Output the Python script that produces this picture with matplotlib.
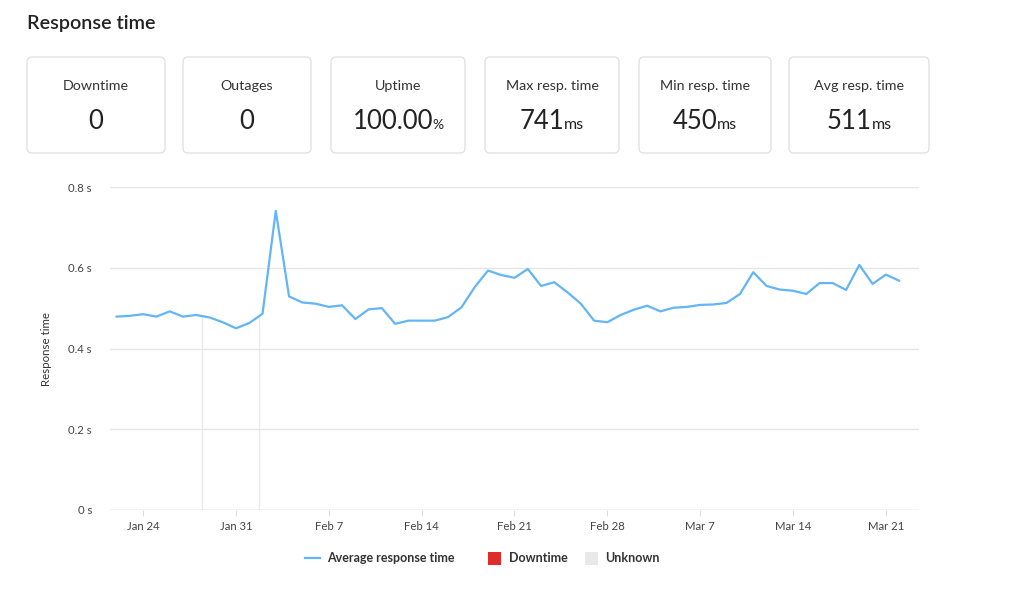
import numpy as np
import matplotlib
matplotlib.use("Agg")
import matplotlib.pyplot as plt
import matplotlib.dates as mdates
from matplotlib.patches import FancyBboxPatch, Rectangle
from matplotlib.lines import Line2D
import datetime as dt

plt.rcParams['font.family'] = ['Lato', 'DejaVu Sans']

# ---- data ----
start_date = dt.date(2021, 1, 22)
resp_time = [0.479, 0.481, 0.485, 0.479, 0.492, 0.479, 0.483, 0.477, 0.465, 0.450,
             0.463, 0.486, 0.741, 0.529, 0.514, 0.511, 0.503, 0.507, 0.473, 0.497,
             0.500, 0.461, 0.469, 0.469, 0.469, 0.478, 0.502, 0.552, 0.593, 0.582,
             0.575, 0.597, 0.555, 0.564, 0.539, 0.511, 0.469, 0.465, 0.483, 0.496,
             0.506, 0.492, 0.501, 0.503, 0.508, 0.509, 0.513, 0.535, 0.589, 0.555,
             0.546, 0.543, 0.535, 0.562, 0.562, 0.545, 0.607, 0.560, 0.583, 0.568]
dates = [start_date + dt.timedelta(days=i) for i in range(len(resp_time))]

marker_dates = [dt.datetime(2021, 1, 28, 11), dt.datetime(2021, 2, 1, 17)]

tick_dates = [dt.date(2021, 1, 24), dt.date(2021, 1, 31), dt.date(2021, 2, 7),
              dt.date(2021, 2, 14), dt.date(2021, 2, 21), dt.date(2021, 2, 28),
              dt.date(2021, 3, 7), dt.date(2021, 3, 14), dt.date(2021, 3, 21)]
tick_labels = ["Jan 24", "Jan 31", "Feb 7", "Feb 14", "Feb 21", "Feb 28",
               "Mar 7", "Mar 14", "Mar 21"]
y_ticks = [0.0, 0.2, 0.4, 0.6, 0.8]
y_tick_labels = ["0 s", "0.2 s", "0.4 s", "0.6 s", "0.8 s"]

card_labels = ["Downtime", "Outages", "Uptime", "Max resp. time", "Min resp. time", "Avg resp. time"]
card_values = ["0", "0", "100.00", "741", "450", "511"]
card_units = ["", "", "%", "ms", "ms", "ms"]

legend_labels = ["Average response time", "Downtime", "Unknown"]

LINE_COLOR = '#62b5f6'
DOWN_COLOR = '#e02b2b'
UNKNOWN_COLOR = '#e8e8e8'

# ---- figure ----
W, H = 1024, 597
fig = plt.figure(figsize=(W / 100, H / 100), dpi=100)
fig.patch.set_facecolor('white')

fig.text(27 / W, 1 - 24 / H, "Response time", fontsize=14.2, fontweight='semibold',
         color='#222222', ha='left', va='center')

# cards
card_x = [(27, 165), (183, 311), (331, 465), (485, 619), (639, 771), (789, 929)]
card_top, card_bot = 57, 153
renderer = fig.canvas.get_renderer()
for (x0, x1), lab, val, unit in zip(card_x, card_labels, card_values, card_units):
    box = FancyBboxPatch((x0 / 100, (H - card_bot) / 100), (x1 - x0) / 100,
                         (card_bot - card_top) / 100,
                         boxstyle="round,pad=0,rounding_size=0.05",
                         transform=fig.dpi_scale_trans, facecolor='white',
                         edgecolor='#e2e2e2', linewidth=1.0)
    fig.patches.append(box)
    cx = (x0 + x1) / 2
    fig.text(cx / W, 1 - 86 / H, lab, fontsize=10.3, color='#333333',
             ha='center', va='center')
    t1 = fig.text(0, 1 - 129 / H, val, fontsize=18.5, color='#222222',
                  ha='left', va='baseline')
    w1 = t1.get_window_extent(renderer).width
    w2 = 0
    t2 = None
    if unit:
        fs = 10 if unit == '%' else 11.5
        t2 = fig.text(0, 1 - 129 / H, unit, fontsize=fs, color='#222222',
                      ha='left', va='baseline')
        w2 = t2.get_window_extent(renderer).width
    gap = -1.5 if unit == '%' else 0
    left = cx - (w1 + w2 + gap) / 2
    t1.set_x(left / W)
    if t2 is not None:
        t2.set_x((left + w1 + gap) / W)

# chart axes
ax = fig.add_axes([110 / W, 1 - 510 / H, (919 - 110) / W, (510 - 187) / H])
ax.set_facecolor('white')
for s in ax.spines.values():
    s.set_visible(False)

ax.set_ylim(0, 0.8)
ax.set_xlim(mdates.date2num(dt.datetime(2021, 1, 21, 12)),
            mdates.date2num(dt.datetime(2021, 3, 23, 12)))

ax.set_yticks(y_ticks)
ax.set_yticklabels(y_tick_labels)
ax.grid(axis='y', color='#e6e6e6', linewidth=1.0)
ax.set_axisbelow(True)
ax.axhline(0, color='#dcdcdc', linewidth=1.0, zorder=1)

ax.set_xticks([mdates.date2num(d) for d in tick_dates])
ax.set_xticklabels(tick_labels)
ax.tick_params(axis='x', length=4, color='#dcdcdc', labelsize=8.2,
               labelcolor='#444444', pad=4)
ax.tick_params(axis='y', length=0, labelsize=8.2, labelcolor='#444444', pad=13)

xnum = mdates.date2num(dates)
for md in marker_dates:
    mx = mdates.date2num(md)
    ax.vlines(mx, 0, np.interp(mx, xnum, resp_time), color=UNKNOWN_COLOR,
              linewidth=0.9, zorder=1.5)

ax.plot(xnum, resp_time, color=LINE_COLOR, linewidth=1.6, zorder=3, clip_on=False)

ax.set_ylabel("Response time", fontsize=8.3, color='#333333', labelpad=12)

# legend (manual layout, pixel positions)
ly = 1 - 558 / H
fig.lines.append(Line2D([305 / W, 320 / W], [ly, ly], color=LINE_COLOR,
                        linewidth=1.6, transform=fig.transFigure))
for px, col in [(488, DOWN_COLOR), (585, UNKNOWN_COLOR)]:
    fig.patches.append(Rectangle((px / W, 1 - 565 / H), 13 / W, 13 / H,
                                 facecolor=col, edgecolor='none',
                                 transform=fig.transFigure))
for px, lab in zip([327, 509, 605], legend_labels):
    fig.text(px / W, ly, lab, fontsize=9.0, fontweight='bold', color='#333333',
             ha='left', va='center')

fig.savefig("out.png", dpi=100, facecolor='white')
